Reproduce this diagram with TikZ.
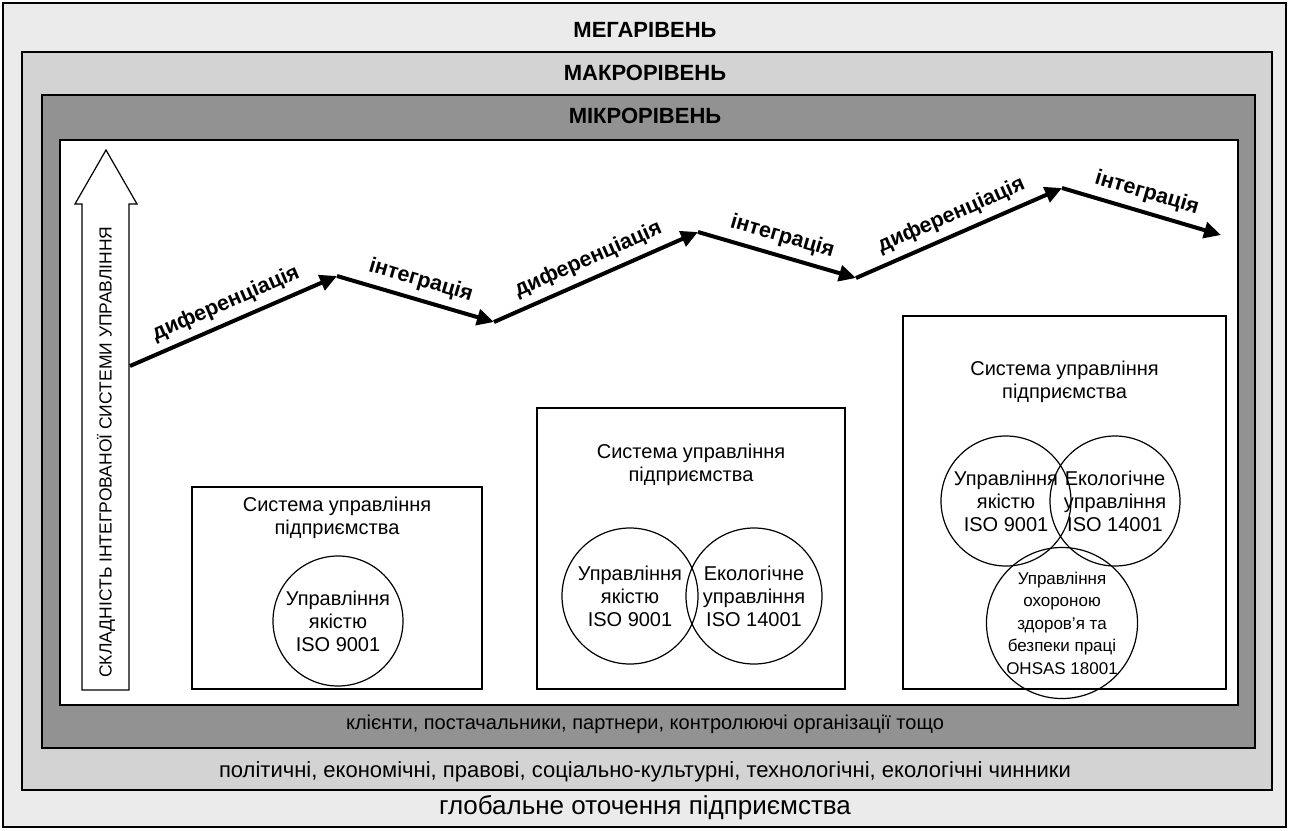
\documentclass[tikz,border=0pt]{standalone}
\usepackage{fontspec}
\setmainfont{Liberation Sans}
\usetikzlibrary{arrows.meta}
\definecolor{megagray}{HTML}{EBEBEB}
\definecolor{makrogray}{HTML}{D3D3D3}
\definecolor{mikrogray}{HTML}{929292}
\tikzset{
  level/.style={draw=black, line width=1.5pt},
  leveltitle/.style={font=\fontsize{22}{26}\selectfont\bfseries},
  envtext/.style={font=\fontsize{20}{24}\selectfont},
  sysbox/.style={draw, line width=1.2pt, fill=white, inner sep=0pt},
  systitle/.style={align=center, font=\fontsize{20}{23}\selectfont},
  stdcircle/.style={draw, circle, line width=1.2pt, minimum size=130pt, inner sep=0pt,
    align=center, font=\fontsize{20}{23}\selectfont},
  zig/.style={line width=4pt, -{Triangle[length=17pt,width=16pt]}},
  ziglabel/.style={sloped, above=6pt, inner sep=1pt, font=\fontsize{21.5}{24}\selectfont\bfseries}
}

\begin{document}
\begin{tikzpicture}[x=1pt,y=1pt]
  \useasboundingbox (0,0) rectangle (1289,-830);
  % levels
  \filldraw[level, fill=megagray] (3,-3) rectangle (1286,-827);
  \filldraw[level, fill=makrogray] (22,-52) rectangle (1272,-790);
  \filldraw[level, fill=mikrogray] (42,-95) rectangle (1255,-748);
  \filldraw[level, fill=white] (60,-140) rectangle (1238,-705);
  \node[leveltitle] (mega) at (645,-30) {МЕГАРІВЕНЬ};
  \node[leveltitle] (makro) at (645,-73) {МАКРОРІВЕНЬ};
  \node[leveltitle] (mikro) at (645,-116) {МІКРОРІВЕНЬ};
  \node[envtext] (partners) at (645,-724) {клієнти, постачальники, партнери, контролюючі організації тощо};
  \node[envtext, font=\fontsize{22}{26}\selectfont] (factors) at (645,-772) {політичні, економічні, правові, соціально-культурні, технологічні, екологічні чинники};
  \node[font=\fontsize{26}{30}\selectfont] (global) at (645,-808) {глобальне оточення підприємства};

  % complexity arrow
  \draw[line width=1.2pt, fill=white] (82,-690) -- (82,-204) -- (75,-204) -- (106,-150)
    -- (137,-204) -- (129,-204) -- (129,-690) -- cycle;
  \node[rotate=90, font=\fontsize{17.5}{22}\selectfont] (axis) at (106,-452)
    {СКЛАДНІСТЬ ІНТЕГРОВАНОЇ СИСТЕМИ УПРАВЛІННЯ};

  % zigzag
  \coordinate (z0) at (130,-366);
  \coordinate (z1) at (337,-276);
  \coordinate (z2) at (494,-322);
  \coordinate (z3) at (698,-232);
  \coordinate (z4) at (856,-278);
  \coordinate (z5) at (1062,-188);
  \coordinate (z6) at (1221,-235);
  \draw[zig] (z0) -- node[ziglabel] (d1) {диференціація} (z1);
  \draw[zig] (z1) -- node[ziglabel] (i1) {інтеграція} (z2);
  \draw[zig] (z2) -- node[ziglabel] (d2) {диференціація} (z3);
  \draw[zig] (z3) -- node[ziglabel] (i2) {інтеграція} (z4);
  \draw[zig] (z4) -- node[ziglabel] (d3) {диференціація} (z5);
  \draw[zig] (z5) -- node[ziglabel] (i3) {інтеграція} (z6);

  % stage 1
  \node[sysbox, minimum width=290pt, minimum height=202pt] (box1) at (337,-588) {};
  \node[systitle, below=7pt] (title1) at (box1.north) {Система управління\\підприємства};
  \node[stdcircle, minimum size=130pt] (q1) at (338,-621) {Управління\\якістю\\ISO 9001};

  % stage 2
  \node[sysbox, minimum width=308pt, minimum height=281pt] (box2) at (691,-548.5) {};
  \node[systitle, below=33pt] (title2) at (box2.north) {Система управління\\підприємства};
  \node[stdcircle, minimum size=136pt] (q2) at (630,-596) {Управління\\якістю\\ISO 9001};
  \node[stdcircle, minimum size=136pt] (e2) at (754,-596) {Екологічне\\управління\\ISO 14001};

  % stage 3
  \node[sysbox, minimum width=323pt, minimum height=373pt] (box3) at (1064.5,-502.5) {};
  \node[systitle, below=42pt] (title3) at (box3.north) {Система управління\\підприємства};
  \node[stdcircle] (q3) at (1006,-501) {Управління\\якістю\\ISO 9001};
  \node[stdcircle] (e3) at (1115,-501) {Екологічне\\управління\\ISO 14001};
  \node[stdcircle, font=\fontsize{17}{22.5}\selectfont] (s3) at (1062,-623)
    {Управління\\охороною\\здоров’я та\\безпеки праці\\OHSAS 18001};
\end{tikzpicture}
\end{document}
